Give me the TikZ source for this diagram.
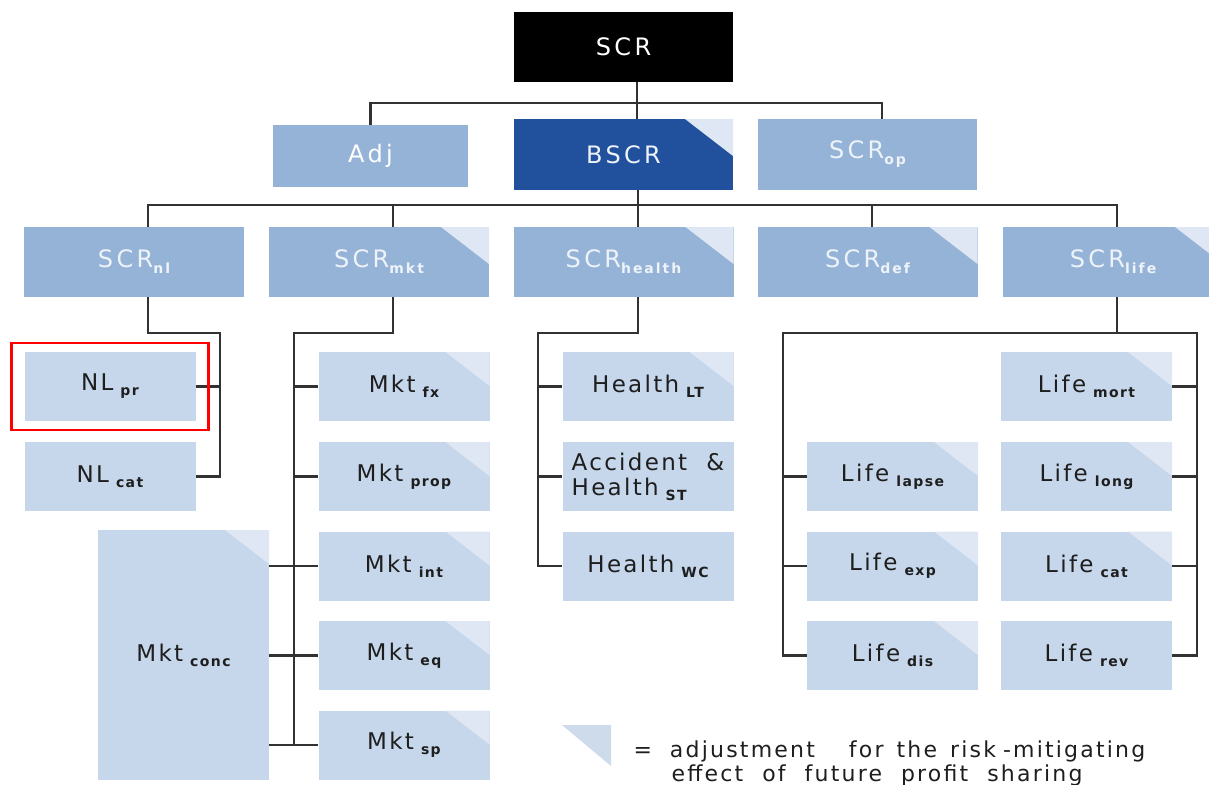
\documentclass[tikz,border=0pt]{standalone}
\usepackage{fontspec}
\setmainfont{DejaVu Sans}[LetterSpace=10]
\newfontfamily\headfont{DejaVu Sans}[LetterSpace=14]
\usepackage{tikz}
\definecolor{midblue}{RGB}{149,179,215}
\definecolor{darkblue}{RGB}{33,80,156}
\definecolor{liteblue}{RGB}{198,215,236}
\definecolor{tricol}{RGB}{222,231,243}
\definecolor{keytri}{RGB}{206,219,235}
\definecolor{paletext}{RGB}{238,243,250}
\definecolor{wirecol}{RGB}{50,50,50}
\definecolor{inkcol}{RGB}{30,30,30}
\newcommand\sub[1]{\hspace{7pt}\raisebox{-5pt}{\fontsize{14}{14}\selectfont\bfseries #1}}
\newcommand\ssub[1]{\raisebox{-6pt}{\fontsize{14}{14}\selectfont\bfseries #1}}

\begin{document}
\begin{tikzpicture}[x=1pt,y=-1pt,
  wire/.style={draw=wirecol,line width=2.1pt},
  box/.style={inner sep=0pt,font=\fontsize{23}{25}\selectfont},
  corner/.style={path picture={\fill[tricol] ([xshift=-44pt]path picture bounding box.north east) -- (path picture bounding box.north east) -- ([yshift=-34pt]path picture bounding box.north east) -- cycle;}},
  bigcorner/.style={path picture={\fill[tricol] ([xshift=-48pt]path picture bounding box.north east) -- (path picture bounding box.north east) -- ([yshift=-37pt]path picture bounding box.north east) -- cycle;}},
  head/.style={box,font=\headfont\fontsize{24}{26}\selectfont,text=paletext,minimum width=219pt,minimum height=71pt},
  risk/.style={head,fill=midblue,minimum width=220pt,minimum height=70pt},
  sub/.style={box,fill=liteblue,text=inkcol,minimum width=171pt,minimum height=69pt},
  keytext/.style={anchor=base west,text=inkcol,font=\fontsize{22}{24}\selectfont},
  hilite/.style={draw=red,line width=2.5pt}]
\useasboundingbox (0,0) rectangle (1209,784);

\node[head,fill=black,text=white,minimum height=70pt] (scr) at (623.5,47) {SCR};
\node[head,fill=midblue,text=white,minimum width=195pt,minimum height=62pt] (adj) at (370.5,156) {Adj};
\node[head,fill=darkblue,bigcorner] (bscr) at (623.5,154.5) {BSCR};
\node[head,fill=midblue] (op) at (867.5,154.5) {SCR\ssub{op}};

\node[risk] (nl) at (134,262) {SCR\ssub{nl}};
\node[risk,bigcorner] (mkt) at (379,262) {SCR\ssub{mkt}};
\node[risk,bigcorner] (hlth) at (623.5,262) {SCR\ssub{health}};
\node[risk,bigcorner] (def) at (867.5,262) {SCR\ssub{def}};
\node[risk,bigcorner] (life) at (1113,262) {SCR\ssub{life}};

\node[sub] (nlpr) at (110,386.5) {NL\sub{pr}};
\node[sub] (nlcat) at (110,476.5) {NL\sub{cat}};

\node[sub,corner] (fx) at (404,386.5) {Mkt\sub{fx}};
\node[sub,corner] (prop) at (404,476.5) {Mkt\sub{prop}};
\node[sub,corner] (int) at (404,566) {Mkt\sub{int}};
\node[sub,corner] (eq) at (404,655.5) {Mkt\sub{eq}};
\node[sub,corner] (sp) at (404,745) {Mkt\sub{sp}};
\node[sub,corner,minimum height=250pt] (conc) at (183.5,655) {Mkt\sub{conc}};

\node[sub,corner] (lt) at (648,386.5) {Health\sub{LT}};
\node[sub,align=left] (acc) at (648,476.5) {Accident\ \ \&\\Health\sub{ST}};
\node[sub] (wc) at (648,566) {Health\sub{WC}};

\node[sub,corner] (lapse) at (892.5,476.5) {Life\sub{lapse}};
\node[sub,corner] (exp) at (892.5,566) {Life\sub{exp}};
\node[sub,corner] (dis) at (892.5,655.5) {Life\sub{dis}};
\node[sub,corner] (mort) at (1086.5,386.5) {Life\sub{mort}};
\node[sub,corner] (long) at (1086.5,476.5) {Life\sub{long}};
\node[sub,corner] (cat) at (1086.5,566) {Life\sub{cat}};
\node[sub] (rev) at (1086.5,655.5) {Life\sub{rev}};

\coordinate (r1) at (0,103);
\coordinate (r2) at (0,205);
\coordinate (opd) at ([xshift=14.5pt]op.north);
\coordinate (nld) at ([xshift=14pt]nl.north);
\coordinate (mktd) at ([xshift=14pt]mkt.north);
\coordinate (defd) at ([xshift=4.5pt]def.north);
\coordinate (lifed) at ([xshift=4pt]life.north);
\coordinate (lifeu) at ([xshift=4pt]life.south);
\coordinate (nlb) at (220,333);
\coordinate (mb) at (294,333);
\coordinate (hb) at (538,333);
\coordinate (lbl) at (783,333);
\coordinate (lbr) at (1197,333);

\draw[wire] ([xshift=13.5pt]scr.south) -- ([xshift=13.5pt]bscr.north);
\draw[wire] (adj.north) -- (adj.north |- r1) -| (opd);
\draw[wire] (nld) -- (nld |- r2) -| (lifed);
\draw[wire] (mktd) -- (mktd |- r2);
\draw[wire] (defd) -- (defd |- r2);
\draw[wire] ([xshift=14.5pt]bscr.south) -- ([xshift=14.5pt]hlth.north);

\draw[wire] ([xshift=14pt]nl.south) |- (nlb) |- (nlcat.east);
\draw[wire] (nlpr.east) -- (nlpr.east -| nlb);

\draw[wire] ([xshift=14pt]mkt.south) |- (mb) -- (mb |- sp.west);
\draw[wire] (mb |- fx.west) -- (fx.west);
\draw[wire] (mb |- prop.west) -- (prop.west);
\draw[wire] (mb |- int.west) -- (int.west);
\draw[wire] (mb |- eq.west) -- (eq.west);
\draw[wire] (mb |- sp.west) -- (sp.west);
\draw[wire] (conc.east |- int.west) -- (mb |- int.west);
\draw[wire] (conc.east |- eq.west) -- (mb |- eq.west);
\draw[wire] (conc.east |- sp.west) -- (mb |- sp.west);

\draw[wire] ([xshift=14.5pt]hlth.south) |- (hb) |- (wc.west);
\draw[wire] (hb |- lt.west) -- (lt.west);
\draw[wire] (hb |- acc.west) -- (acc.west);

\draw[wire] (lifeu) -- (lifeu |- lbl);
\draw[wire] (dis.west) -| (lbl) -- (lbr) |- (rev.east);
\draw[wire] (lbl |- lapse.west) -- (lapse.west);
\draw[wire] (lbl |- exp.west) -- (exp.west);
\draw[wire] (mort.east) -- (mort.east -| lbr);
\draw[wire] (long.east) -- (long.east -| lbr);
\draw[wire] (cat.east) -- (cat.east -| lbr);

\draw[hilite] ([shift={(-13,-9)}]nlpr.north west) rectangle ([shift={(13,9)}]nlpr.south east);

\fill[keytri] (562,725) -- (611,725) -- (611,766) -- cycle;
\node[keytext] (key1) at (630,757) {=\hspace{18pt}adjustment\hspace{34pt}for\hspace{13pt}the\hspace{13pt}risk\hspace{7pt}-mitigating};
\node[keytext] (key2) at (668,781) {effect\hspace{19pt}of\hspace{19pt}future\hspace{19pt}profit\hspace{19pt}sharing};
\end{tikzpicture}
\end{document}
